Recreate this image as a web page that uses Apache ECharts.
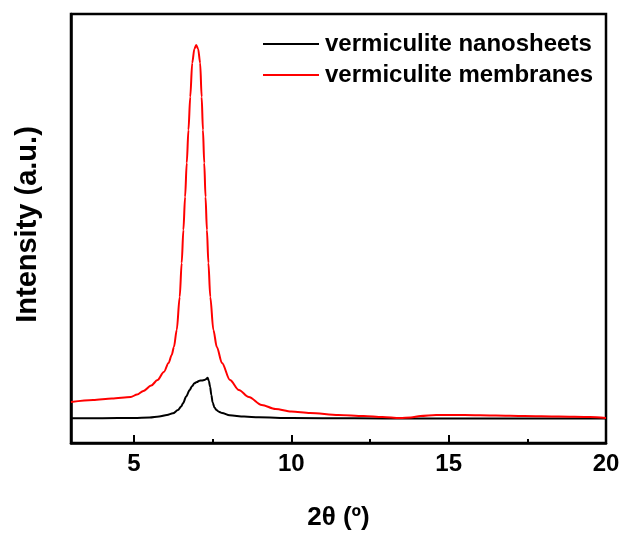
<!DOCTYPE html>
<html>
<head>
<meta charset="utf-8">
<script src="https://cdn.jsdelivr.net/npm/echarts@6/dist/echarts.min.js"></script>
<style>
html,body{margin:0;padding:0;background:#fff;}
#chart{width:625px;height:536px;}
</style>
</head>
<body>
<div id="chart"></div>
<script>
// Data (arbitrary intensity units)
var seriesNames = ['vermiculite nanosheets', 'vermiculite membranes'];

var nanoTheta = [3.0, 4.0, 5.0, 5.5, 5.8, 6.05, 6.24, 6.4, 6.5, 6.56, 6.66, 6.77, 6.85, 6.92, 7.0, 7.08, 7.16, 7.24, 7.3, 7.34, 7.38, 7.42, 7.46, 7.50, 7.56, 7.62, 7.7, 7.8, 8.04, 8.5, 8.97, 10, 12, 14, 16, 18, 20];
var nanoIntensity = [24.7, 24.8, 25, 25.5, 26.5, 28, 29.7, 33, 36.5, 39.7, 46.5, 53, 57, 59.7, 61, 62.3, 62.5, 63, 64, 65.3, 62, 56.3, 48, 40.5, 35.5, 33, 31.3, 30, 27.7, 26.5, 25.7, 25, 24.7, 24.5, 24.5, 24.5, 24.5];

var membTheta = [3.0, 3.7, 4.3, 4.9, 5.1, 5.3, 5.55, 5.75, 5.95, 6.1, 6.2, 6.27, 6.36, 6.454, 6.517, 6.571, 6.625, 6.678, 6.732, 6.789, 6.852, 6.92, 6.978, 7.04, 7.104, 7.152, 7.193, 7.234, 7.275, 7.319, 7.366, 7.426, 7.524, 7.634, 7.798, 8.051, 8.334, 8.65, 9.06, 9.5, 10.0, 10.6, 11.5, 12.3, 12.9, 13.45, 13.8, 14.1, 14.6, 15.5, 16.5, 17.4, 18.5, 19.5, 20.0];
var membIntensity = [41, 43, 44.5, 46, 48.5, 52, 57.5, 63, 71, 80, 88, 96, 113, 146, 180, 213, 246, 280, 313, 346, 380, 394, 398, 394, 380, 346, 313, 280, 246, 213, 180, 146, 113, 96, 80, 63, 53, 46, 38, 34, 31.5, 30, 28, 27, 26, 25, 25.5, 27, 28, 28, 27.5, 27, 26.5, 26, 25];

var xMajorTicks = [5, 10, 15, 20];
var xMinorTicks = [7.5, 12.5, 17.5];

function pairs(xs, ys) {
  return xs.map(function (x, i) { return [x, ys[i]]; });
}

var chart = echarts.init(document.getElementById('chart'), null, {renderer: 'canvas'});
var fontFam = '"Liberation Sans", Arial, sans-serif';

chart.setOption({
  animation: false,
  backgroundColor: '#fff',
  grid: {
    left: 71, right: 19, top: 14, bottom: 93,
    show: true, borderColor: '#000', borderWidth: 2.5, backgroundColor: 'transparent'
  },
  legend: {
    orient: 'vertical',
    left: 258, top: 27,
    itemWidth: 56, itemHeight: 24, itemGap: 7,
    icon: 'path://M0,11 L56,11 L56,13 L0,13 Z',
    data: seriesNames.map(function (n, i) {
      return {name: n, itemStyle: {color: i === 0 ? '#000' : '#ff0000'}};
    }),
    textStyle: {fontFamily: fontFam, fontWeight: 'bold', fontSize: 24, color: '#000', padding: [0, 0, 0, 1]}
  },
  xAxis: [{
    type: 'value', min: 3, max: 20,
    name: '2\u03b8 (\u00ba)', nameLocation: 'middle', nameGap: 62,
    nameTextStyle: {fontFamily: fontFam, fontWeight: 'bold', fontSize: 26, color: '#000'},
    axisLine: {show: true, lineStyle: {color: '#000', width: 2.5}},
    axisTick: {show: true, inside: true, length: 8, lineStyle: {color: '#000', width: 2}, customValues: xMajorTicks},
    axisLabel: {show: true, margin: 9, fontFamily: fontFam, fontWeight: 'bold', fontSize: 24, color: '#000', customValues: xMajorTicks},
    splitLine: {show: false}
  }, {
    type: 'value', min: 3, max: 20, position: 'bottom',
    axisLine: {show: false},
    axisTick: {show: true, inside: true, length: 4, lineStyle: {color: '#000', width: 2}, customValues: xMinorTicks},
    axisLabel: {show: false},
    splitLine: {show: false}
  }],
  yAxis: {
    type: 'value', min: 0, max: 429,
    name: 'Intensity (a.u.)', nameLocation: 'middle', nameGap: 29, nameRotate: 90,
    nameTextStyle: {fontFamily: fontFam, fontWeight: 'bold', fontSize: 29, color: '#000', padding: [0, 0, 0, 8]},
    axisLine: {show: true, lineStyle: {color: '#000', width: 2.5}},
    axisTick: {show: false},
    axisLabel: {show: false},
    splitLine: {show: false}
  },
  series: [{
    name: seriesNames[0], type: 'line', xAxisIndex: 0,
    data: pairs(nanoTheta, nanoIntensity),
    showSymbol: false, symbol: 'none', smooth: 0.3, smoothMonotone: 'x',
    lineStyle: {color: '#000', width: 2}, itemStyle: {color: '#000'}
  }, {
    name: seriesNames[1], type: 'line', xAxisIndex: 0,
    data: pairs(membTheta, membIntensity),
    showSymbol: false, symbol: 'none', smooth: 0.3, smoothMonotone: 'x',
    lineStyle: {color: '#ff0000', width: 2}, itemStyle: {color: '#ff0000'}
  }]
});
</script>
</body>
</html>
